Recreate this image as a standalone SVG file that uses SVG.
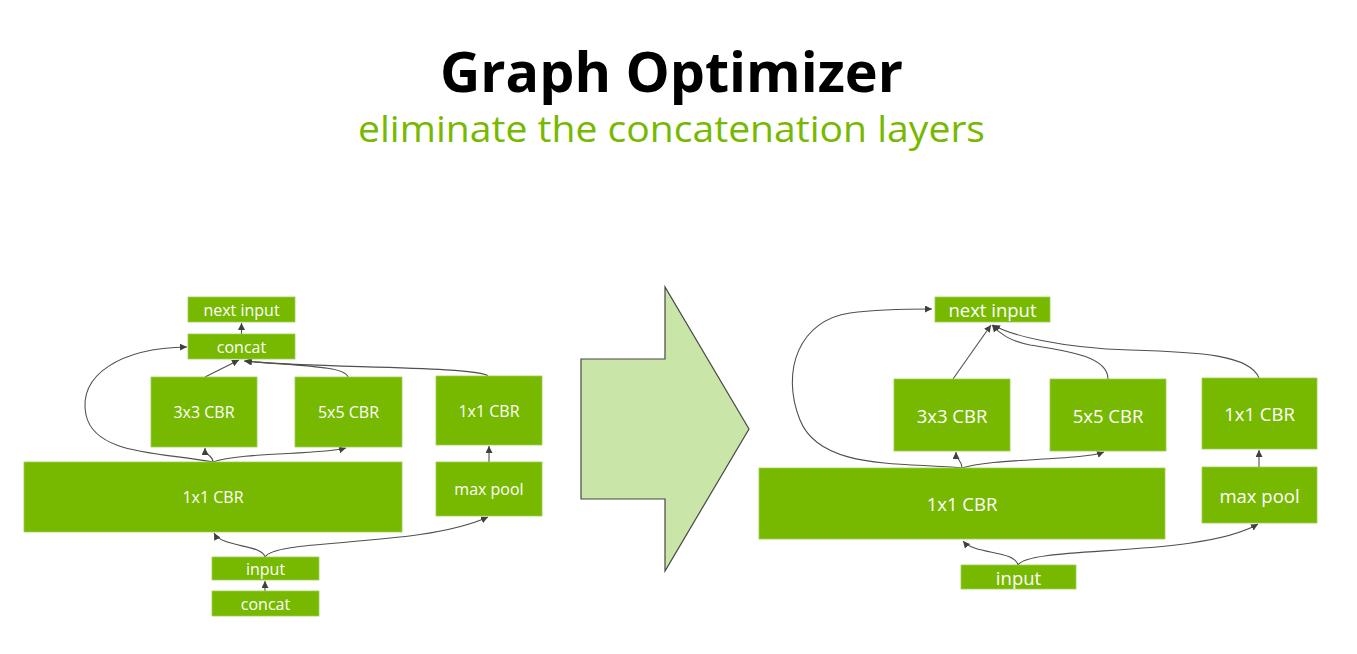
<svg xmlns="http://www.w3.org/2000/svg" width="1357" height="654" viewBox="0 0 1357 654">
<style>
.box{fill:#76b900;stroke:#9cd04f;stroke-width:0.8}
.t{fill:#ffffff;font-family:"Open Sans","Liberation Sans",sans-serif;text-anchor:middle;dominant-baseline:central}
.s{font-size:16px}
.l{font-size:18.5px}
.c{fill:none;stroke:#505050;stroke-width:1.1;marker-end:url(#ah)}
</style>
<defs>
<marker id="ah" markerUnits="userSpaceOnUse" markerWidth="8" markerHeight="7" refX="7" refY="3.5" orient="auto">
<path d="M0,0 L7,3.5 L0,7 z" fill="#404040"/>
</marker>
</defs>
<rect width="1357" height="654" fill="#ffffff"/>
<g id="title">
<text x="671.5" y="92" font-family="'Open Sans','Liberation Sans',sans-serif" font-weight="bold" font-size="56" text-anchor="middle" fill="#000000" textLength="463" lengthAdjust="spacingAndGlyphs">Graph Optimizer</text>
<text x="671.5" y="142" font-family="'Open Sans','Liberation Sans',sans-serif" font-size="37" text-anchor="middle" fill="#76b900" textLength="627" lengthAdjust="spacingAndGlyphs">eliminate the concatenation layers</text>
</g>
<g id="big-arrow">
<polygon points="581,359 665,359 665,287 749,429 665,571 665,499 581,499" fill="#c9e5a7" stroke="#474747" stroke-width="1.2"/>
</g>
<g id="left-connectors">
<path class="c" d="M241.5,334 L241.5,323"/>
<path class="c" d="M205,377 L239,360"/>
<path class="c" d="M348,377 C345,366 300,366 244,361"/>
<path class="c" d="M488,376 C480,366 300,368 245,361"/>
<path class="c" d="M213,462 C160,452 95,455 86,415 C78,375 120,348 187,347"/>
<path class="c" d="M213,462 C213,455 205,456 205,448"/>
<path class="c" d="M213,462 C240,452 320,455 346,448"/>
<path class="c" d="M265,557 C262,544 222,548 214,533"/>
<path class="c" d="M265,557 C275,538 420,548 488,517"/>
<path class="c" d="M265,591 L265,581"/>
<path class="c" d="M489,462 L489,446"/>
</g>
<g id="right-connectors">
<path class="c" d="M953,379 L991,325"/>
<path class="c" d="M1108,379 C1108,355 1060,350 1030,345 C1010,341 1000,334 992,325"/>
<path class="c" d="M1259,378 C1250,355 1200,352 1130,350 C1060,348 1010,335 993,325"/>
<path class="c" d="M962,468 C900,462 820,470 800,420 C780,370 800,320 850,313 C880,309 910,309 932,309"/>
<path class="c" d="M962,468 C962,460 956,460 956,452"/>
<path class="c" d="M962,468 C990,458 1080,461 1104,452"/>
<path class="c" d="M1018,565 C1014,550 975,555 963,541"/>
<path class="c" d="M1018,565 C1030,545 1200,558 1258,524"/>
<path class="c" d="M1259,467 L1259,450"/>
</g>
<g id="L-next-input"><rect class="box" x="188" y="297" width="107" height="25"/><text class="t s" x="241.5" y="309.5">next input</text></g>
<g id="L-concat-top"><rect class="box" x="188" y="334" width="107" height="25"/><text class="t s" x="241.5" y="346.5">concat</text></g>
<g id="L-3x3"><rect class="box" x="151" y="377" width="106" height="70"/><text class="t s" x="204" y="412">3x3 CBR</text></g>
<g id="L-5x5"><rect class="box" x="295" y="377" width="107" height="70"/><text class="t s" x="348.5" y="412">5x5 CBR</text></g>
<g id="L-1x1-right"><rect class="box" x="436" y="376" width="106" height="69"/><text class="t s" x="489" y="410.5">1x1 CBR</text></g>
<g id="L-1x1-big"><rect class="box" x="24" y="462" width="378" height="70"/><text class="t s" x="213" y="497">1x1 CBR</text></g>
<g id="L-maxpool"><rect class="box" x="436" y="462" width="106" height="54"/><text class="t s" x="489" y="489">max pool</text></g>
<g id="L-input"><rect class="box" x="212" y="557" width="107" height="23"/><text class="t s" x="265.5" y="568.5">input</text></g>
<g id="L-concat-bottom"><rect class="box" x="212" y="591" width="107" height="25"/><text class="t s" x="265.5" y="603.5">concat</text></g>
<g id="R-next-input"><rect class="box" x="935" y="297" width="115" height="25"/><text class="t l" x="992.5" y="309.5">next input</text></g>
<g id="R-3x3"><rect class="box" x="894" y="379" width="116" height="72"/><text class="t l" x="952" y="415">3x3 CBR</text></g>
<g id="R-5x5"><rect class="box" x="1050" y="379" width="116" height="72"/><text class="t l" x="1108" y="415">5x5 CBR</text></g>
<g id="R-1x1-right"><rect class="box" x="1202" y="378" width="115" height="71"/><text class="t l" x="1259.5" y="413.5">1x1 CBR</text></g>
<g id="R-1x1-big"><rect class="box" x="759" y="468" width="406" height="71"/><text class="t l" x="962" y="503.5">1x1 CBR</text></g>
<g id="R-maxpool"><rect class="box" x="1202" y="467" width="115" height="56"/><text class="t l" x="1259.5" y="495">max pool</text></g>
<g id="R-input"><rect class="box" x="961" y="565" width="115" height="24"/><text class="t l" x="1018.5" y="577">input</text></g>
</svg>
